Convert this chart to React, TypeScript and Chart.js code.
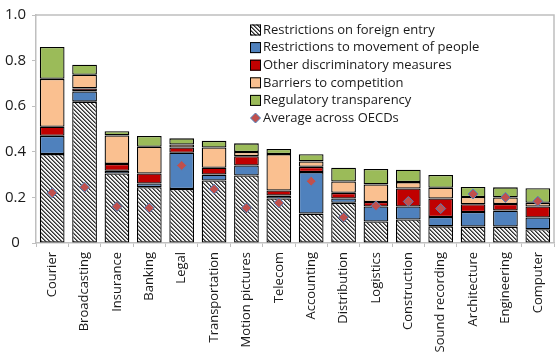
import React, { useEffect, useRef } from 'react';
import { Chart, registerables } from 'chart.js';

Chart.register(...registerables);

const categories = ['Courier', 'Broadcasting', 'Insurance', 'Banking', 'Legal', 'Transportation', 'Motion pictures', 'Telecom', 'Accounting', 'Distribution', 'Logistics', 'Construction', 'Sound recording', 'Architecture', 'Engineering', 'Computer'];
const foreignEntry = [0.39, 0.62, 0.305, 0.245, 0.237, 0.274, 0.296, 0.195, 0.129, 0.176, 0.094, 0.103, 0.073, 0.072, 0.072, 0.06];
const movementPeople = [0.08, 0.045, 0.012, 0.016, 0.159, 0.026, 0.044, 0.013, 0.182, 0.019, 0.066, 0.057, 0.041, 0.064, 0.07, 0.052];
const otherDiscrim = [0.04, 0.013, 0.03, 0.044, 0.023, 0.03, 0.041, 0.022, 0.023, 0.025, 0.02, 0.079, 0.081, 0.034, 0.029, 0.048];
const barriers = [0.21, 0.06, 0.125, 0.117, 0.013, 0.089, 0.018, 0.16, 0.024, 0.05, 0.077, 0.028, 0.047, 0.032, 0.029, 0.016];
const transparency = [0.14, 0.044, 0.018, 0.047, 0.027, 0.029, 0.038, 0.022, 0.031, 0.06, 0.068, 0.054, 0.056, 0.044, 0.044, 0.064];
const average = [0.22, 0.245, 0.16, 0.154, 0.34, 0.236, 0.154, 0.176, 0.271, 0.113, 0.163, 0.182, 0.151, 0.215, 0.2, 0.183];

const seriesNames = ['Restrictions on foreign entry', 'Restrictions to movement of people', 'Other discriminatory measures', 'Barriers to competition', 'Regulatory transparency', 'Average across OECDs'];
const yTicks = [0, 0.2, 0.4, 0.6, 0.8, 1];

function makeHatch(): CanvasPattern | string {
  const c = document.createElement('canvas');
  c.width = 4;
  c.height = 4;
  const g = c.getContext('2d');
  if (!g) return '#888';
  g.fillStyle = '#f4f4f4';
  g.fillRect(0, 0, 4, 4);
  for (let i = 0; i < 4; i++) {
    g.fillStyle = '#333333';
    g.fillRect(i, i, 1, 1);
    g.fillStyle = '#7a7a7a';
    g.fillRect((i + 1) % 4, i, 1, 1);
  }
  const p = g.createPattern(c, 'repeat');
  return p || '#888';
}

const TEXT = '#1a1a1a';
const GRAYLINE = '#bfbfbf';

export default function App() {
  const ref = useRef<HTMLCanvasElement>(null);
  useEffect(() => {
    if (!ref.current) return;
    const hatch = makeHatch();
    const fills: any[] = [hatch, '#4F81BD', '#C00000', '#FAC090', '#9BBB59'];
    const barData = [foreignEntry, movementPeople, otherDiscrim, barriers, transparency];

    const frame = {
      id: 'frame',
      beforeDatasetsDraw(chart: any) {
        const { ctx, chartArea } = chart;
        ctx.save();
        ctx.strokeStyle = GRAYLINE;
        ctx.lineWidth = 1.5;
        ctx.beginPath();
        ctx.moveTo(chartArea.left, chartArea.top);
        ctx.lineTo(chartArea.right, chartArea.top);
        ctx.lineTo(chartArea.right, chartArea.bottom);
        ctx.stroke();
        ctx.restore();
      },
    };

    const legend = {
      id: 'insideLegend',
      afterDraw(chart: any) {
        const { ctx, chartArea } = chart;
        ctx.save();
        const x0 = chartArea.left + 214;
        let y = chartArea.top + 15;
        const step = 17.6;
        ctx.font = "13px 'Open Sans', sans-serif";
        ctx.textBaseline = 'middle';
        ctx.textAlign = 'left';
        seriesNames.forEach((name, i) => {
          if (i < 5) {
            ctx.fillStyle = fills[i];
            ctx.fillRect(x0, y - 5.5, 11, 11);
            ctx.strokeStyle = '#000';
            ctx.lineWidth = 1;
            ctx.strokeRect(x0 + 0.5, y - 5, 10, 10);
          } else {
            const cx = x0 + 5.5;
            ctx.beginPath();
            ctx.moveTo(cx, y - 5);
            ctx.lineTo(cx + 5, y);
            ctx.lineTo(cx, y + 5);
            ctx.lineTo(cx - 5, y);
            ctx.closePath();
            ctx.fillStyle = '#C0504D';
            ctx.fill();
            ctx.strokeStyle = '#4F81BD';
            ctx.lineWidth = 1;
            ctx.stroke();
          }
          ctx.fillStyle = TEXT;
          ctx.fillText(name, x0 + 13, y);
          y += step;
        });
        ctx.restore();
      },
    };

    const datasets: any[] = barData.map((d, i) => ({
      type: 'bar',
      label: seriesNames[i],
      data: d,
      backgroundColor: fills[i],
      borderColor: '#000',
      borderWidth: 1.3,
      borderSkipped: false,
      stack: 'bars',
      order: 1,
      barPercentage: 0.763,
      categoryPercentage: 1,
    }));
    datasets.push({
      type: 'line',
      label: seriesNames[5],
      data: average,
      showLine: false,
      pointStyle: 'rectRot',
      pointRadius: 5,
      pointBackgroundColor: '#C0504D',
      pointBorderColor: '#4F81BD',
      pointBorderWidth: 1,
      stack: 'avg',
      order: 0,
    });

    const chart = new Chart(ref.current, {
      type: 'bar',
      data: { labels: categories, datasets },
      options: {
        animation: false,
        responsive: true,
        maintainAspectRatio: false,
        layout: { padding: { top: 15, left: 0, right: 0, bottom: 0 } },
        plugins: { legend: { display: false }, tooltip: { enabled: false } },
        scales: {
          x: {
            stacked: true,
            offset: true,
            grid: { display: true, drawOnChartArea: false, offset: true, tickLength: 4, color: GRAYLINE, lineWidth: 1 },
            border: { display: true, color: GRAYLINE, width: 1.5 },
            ticks: {
              color: TEXT,
              font: { size: 13, family: "'Open Sans', sans-serif" },
              maxRotation: 90,
              minRotation: 90,
              padding: 5,
              autoSkip: false,
            },
            afterFit(scale: any) {
              scale.height = 113;
            },
          },
          y: {
            stacked: true,
            min: 0,
            max: 1,
            afterBuildTicks(scale: any) {
              scale.ticks = yTicks.map((v) => ({ value: v }));
            },
            grid: { display: true, drawOnChartArea: false, tickLength: 4, color: GRAYLINE },
            border: { display: true, color: GRAYLINE, width: 1.5 },
            ticks: {
              color: TEXT,
              font: { size: 15, family: "'Open Sans', sans-serif" },
              crossAlign: 'center',
              padding: 6,
            },
            afterFit(scale: any) {
              scale.width = 36;
            },
          },
        },
      } as any,
      plugins: [frame, legend],
    });
    return () => chart.destroy();
  }, []);

  return (
    <div style={{ position: 'fixed', left: 0, top: 0, width: 557, height: 356, overflow: 'hidden', background: '#fff' }}>
      <div style={{ position: 'relative', width: 560, height: 356 }}>
        <canvas ref={ref} />
      </div>
    </div>
  );
}
